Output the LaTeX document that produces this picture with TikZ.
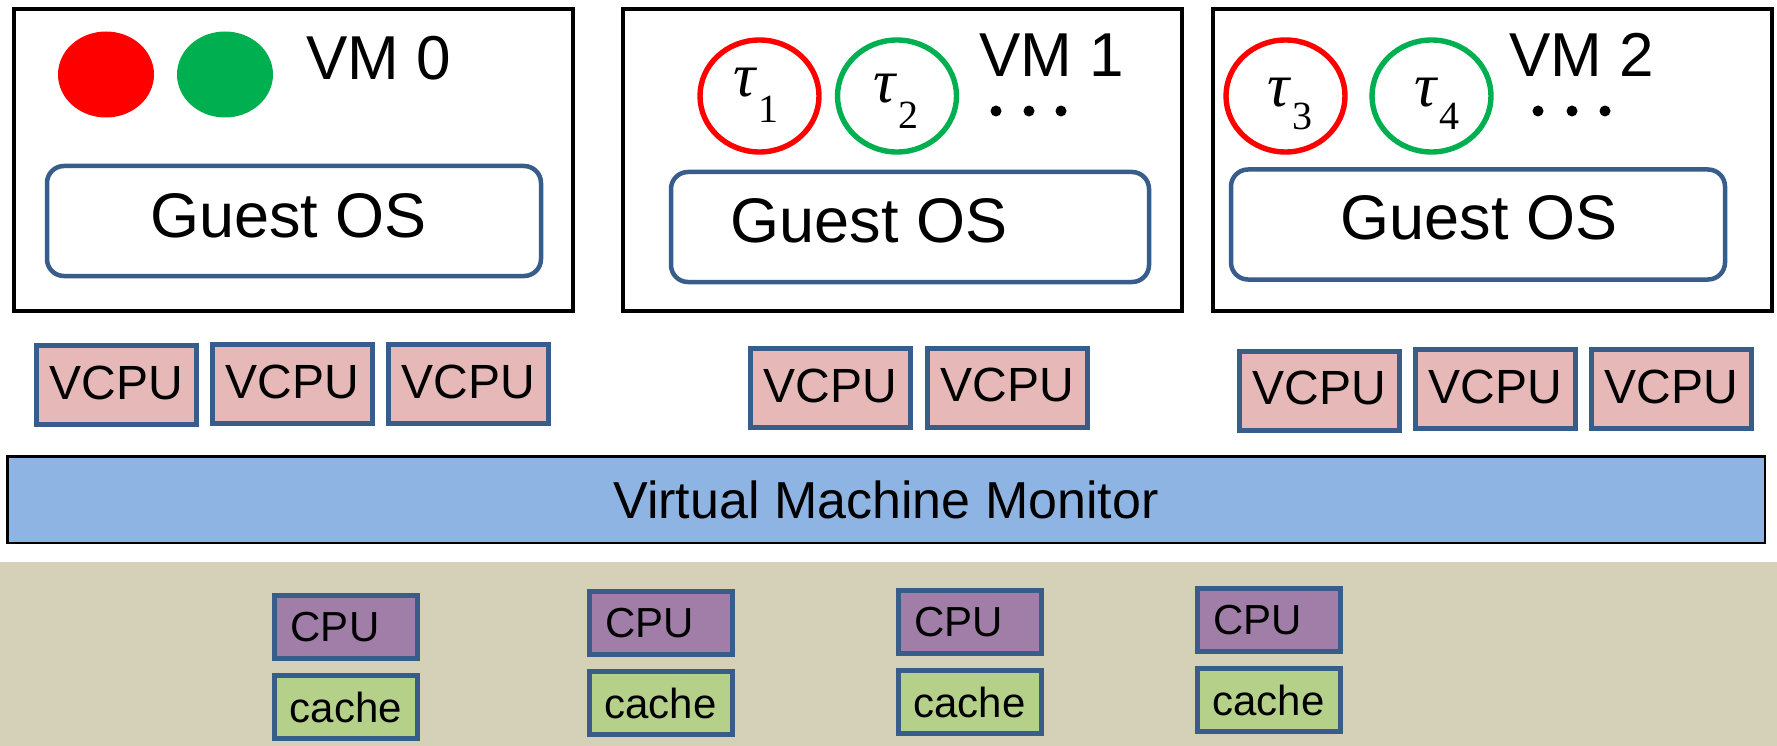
\documentclass[tikz,border=0pt]{standalone}
\usepackage{fontspec}
\setmainfont{Liberation Sans}
\newfontfamily\taufont{Liberation Serif}
\usetikzlibrary{shapes.geometric}
\definecolor{frameblue}{HTML}{385D8A}
\definecolor{vcpupink}{HTML}{E6B9B8}
\definecolor{vmmblue}{HTML}{8EB4E3}
\definecolor{hwtan}{HTML}{D5D0B8}
\definecolor{cpupurple}{HTML}{A17EA8}
\definecolor{cachegreen}{HTML}{B4D089}
\definecolor{taskred}{HTML}{FF0000}
\definecolor{taskgreen}{HTML}{00B050}
\newcommand\fsz[1]{\fontsize{#1}{#1}\selectfont}
% tau with a lowered upright index: #1 index, #2 drop below the baseline
\newcommand\tasklabel[2]{{\taufont\itshape\fsz{62}τ}\kern3pt\raisebox{-#2}{\taufont\fsz{40}#1}}
\begin{document}
\begin{tikzpicture}[x=1pt,y=-1pt,
  vmbox/.style={draw=black, line width=3.8pt, minimum width=559pt, minimum height=302.5pt, inner sep=0pt},
  osbox/.style={draw=frameblue, line width=4.5pt, rounded corners=17pt, inner sep=0pt, minimum height=110pt},
  ostext/.style={font=\fsz{63}, anchor=base, inner sep=0pt},
  vmlabel/.style={font=\fsz{62}, anchor=base west, inner sep=0pt},
  tasklbl/.style={anchor=base west, inner sep=0pt},
  vcpu/.style={draw=frameblue, fill=vcpupink, line width=5pt, minimum width=160pt, minimum height=79pt, inner sep=0pt, font=\fsz{48}, text height=36pt, text depth=8pt},
  vmm/.style={draw=black, fill=vmmblue, line width=2.5pt, minimum width=1757.5pt, minimum height=86.5pt, inner sep=0pt, font=\fsz{52}},
  cpubox/.style={draw=frameblue, fill=cpupurple, line width=5pt, minimum width=143pt, minimum height=63pt, inner sep=0pt},
  cachebox/.style={draw=frameblue, fill=cachegreen, line width=5pt, minimum width=143pt, minimum height=63pt, inner sep=0pt, font=\fsz{42}},
  cputext/.style={font=\fsz{42}, inner sep=0pt},
  taskring/.style={ellipse, draw=#1, line width=5.4pt, minimum width=119pt, minimum height=112pt, inner sep=0pt},
  taskdot/.style={ellipse, fill=#1, minimum width=96pt, minimum height=86pt, inner sep=0pt},
  dot/.style={fill=black}
]
\useasboundingbox (0,0) rectangle (1777,746);
\fill[white] (0,0) rectangle (1777,746);

% hardware layer
\node[fill=hwtan, minimum width=1777pt, minimum height=184pt, inner sep=0pt, outer sep=0pt] (hw) at (888.5,654) {};

% virtual machines
\node[vmbox] (vm0) at (293.8,160) {};
\node[vmbox] (vm1) at (902.5,160) {};
\node[vmbox] (vm2) at (1492.5,160) {};

\node[vmlabel] (vm0l) at (306,80) {VM 0};
\node[vmlabel] (vm1l) at (979,77) {VM 1};
\node[vmlabel] (vm2l) at (1509,77) {VM 2};

% tasks
\node[taskdot=taskred] (d0) at (106,74.5) {};
\node[taskdot=taskgreen] (d1) at (225,74.5) {};

\node[taskring=taskred] (t1) at (759.5,96) {};
\node[taskring=taskgreen] (t2) at (897,96) {};
\node[taskring=taskred] (t3) at (1285.5,96) {};
\node[taskring=taskgreen] (t4) at (1431.5,96) {};
\node[tasklbl] (t1l) at (733,97) {\tasklabel{1}{26pt}};
\node[tasklbl] (t2l) at (873,103) {\tasklabel{2}{26pt}};
\node[tasklbl] (t3l) at (1267,107) {\tasklabel{3}{23pt}};
\node[tasklbl] (t4l) at (1414,107) {\tasklabel{4}{23pt}};

\foreach \x in {996,1029,1061,1538,1572,1605}
  \fill[dot] (\x,111) circle (5.5);

% guest operating systems
\node[osbox, minimum width=494pt] (os0) at (294,221) {};
\node[osbox, minimum width=478pt] (os1) at (910,227) {};
\node[osbox, minimum width=494pt] (os2) at (1478,224.5) {};
\node[ostext] (os0l) at (288.5,237) {Guest OS};
\node[ostext] (os1l) at (869,242) {Guest OS};
\node[ostext] (os2l) at (1479,240) {Guest OS};

% virtual CPUs
\node[vcpu] (v01) at (116.5,385) {VCPU};
\node[vcpu] (v02) at (292.5,384) {VCPU};
\node[vcpu] (v03) at (468.5,384) {VCPU};
\node[vcpu] (v11) at (830,388) {VCPU};
\node[vcpu] (v12) at (1007,387.5) {VCPU};
\node[vcpu] (v21) at (1319.5,390.5) {VCPU};
\node[vcpu] (v22) at (1495.5,389) {VCPU};
\node[vcpu] (v23) at (1671,389) {VCPU};

% hypervisor
\node[vmm] (mon) at (886,499.5) {Virtual Machine Monitor};

% physical cores
\node[cpubox] (c1) at (346,627) {};
\node[cachebox] (k1) at (346,707) {cache};
\node[cpubox] (c2) at (660.5,623) {};
\node[cachebox] (k2) at (660.5,703) {cache};
\node[cpubox] (c3) at (969.5,622) {};
\node[cachebox] (k3) at (969.5,702) {cache};
\node[cpubox] (c4) at (1268.5,620) {};
\node[cachebox] (k4) at (1268.5,700) {cache};
\foreach \c in {1,2,3,4}
  \node[cputext] (c\c l) at ([xshift=-11pt]c\c.center) {CPU};
\end{tikzpicture}
\end{document}
